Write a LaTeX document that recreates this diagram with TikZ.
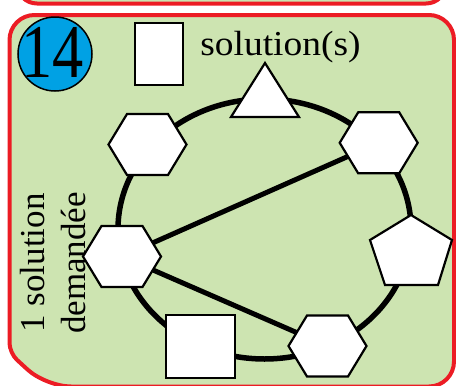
\documentclass[tikz,border=0pt]{standalone}
\usepackage{fontspec}
\setmainfont{Liberation Serif}
\definecolor{panelgreen}{HTML}{CDE4B1}
\definecolor{panelred}{HTML}{EC1C24}
\definecolor{numblue}{HTML}{00A1E4}
\tikzset{
  panel/.style={draw=panelred, line width=4pt, fill=panelgreen},
  shp/.style={draw=black, line width=2.2pt, fill=white, line join=miter},
  ring/.style={draw=black, line width=5.5pt},
  link/.style={draw=black, line width=5pt},
  hexa/.pic={\path[shp] (-39,0) -- (-20.5,-30.5) -- (20.5,-30.5) -- (39,0) -- (20.5,30.5) -- (-20.5,30.5) -- cycle;},
  penta/.pic={\path[shp] (0,-35) -- (41,-10) -- (27,35) -- (-26,35) -- (-41,-10) -- cycle;},
  tria/.pic={\path[shp] (0,-27) -- (34,27) -- (-34,27) -- cycle;},
  lbl/.style={font=\fontsize{35}{40}\selectfont, inner sep=0pt}
}
\begin{document}
\begin{tikzpicture}[x=1pt, y=-1pt]
\useasboundingbox (0,0) rectangle (456,386);
% top panel (partially visible)
\path[panel, rounded corners=20] (17,-40) rectangle (446,3.5);
% main panel
\path[panel, rounded corners=25] (9.5,200) -- (9.5,15) -- (454,15) -- (454,386.5) -- (46,386.5) [rounded corners=10] -- (9.5,353) -- cycle;
% number badge
\node[circle, draw=black, line width=1.5pt, fill=numblue, minimum size=74pt, inner sep=0pt] (badge) at (55,54) {};
\node[anchor=base, inner sep=0pt, font=\fontsize{76}{80}\selectfont, xscale=0.82] (num) at (52.5,77) {14};
% answer box and label
\node[draw=black, line width=2.2pt, fill=white, minimum width=48pt, minimum height=62pt, inner sep=0pt] (ansbox) at (159,54) {};
\node[lbl, anchor=base, xscale=1.07] (soltxt) at (280.5,55) {solution(s)};
% side label
\node[lbl, anchor=base, rotate=90] (side1) at (45,263) {1 solution};
\node[lbl, anchor=base, rotate=90] (side2) at (85,263) {demandée};
% positions of the shapes
\coordinate (tri) at (265,90);
\coordinate (hTL) at (147.5,144.5);
\coordinate (hTR) at (378.7,142.8);
\coordinate (hL) at (122,256.5);
\coordinate (pR) at (411,250);
\coordinate (hB) at (327.5,346);
\coordinate (sq) at (200.5,346.5);
% ring and chords
\draw[ring] (264.5,229) ellipse [x radius=146.5, y radius=130];
\draw[link] (hL) -- (hTR);
\draw[link] (hL) -- (hB);
% shapes
\pic at (tri) {tria};
\pic at (hTL) {hexa};
\pic at (hTR) {hexa};
\pic at (hL) {hexa};
\pic at (pR) {penta};
\pic at (hB) {hexa};
\node[shp, minimum width=69pt, minimum height=63pt, inner sep=0pt] (sqn) at (sq) {};
\end{tikzpicture}
\end{document}
